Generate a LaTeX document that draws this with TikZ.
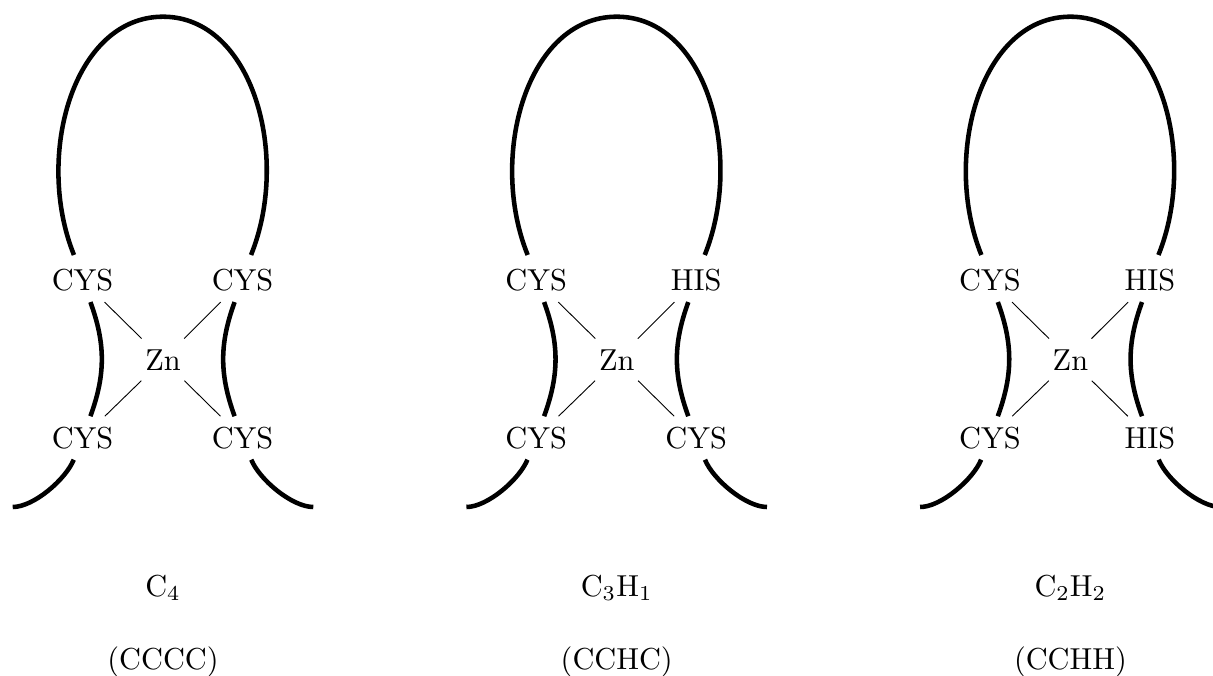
\documentclass[tikz,border=0pt]{standalone}
\begin{document}
\begin{tikzpicture}[x=0.0116cm,y=0.0116cm,
  res/.style={anchor=base, inner sep=0.3333em},
  chain/.style={line width=1.5pt},
  bond/.style={line width=0.3pt},
  lab/.style={anchor=base}]
\useasboundingbox (0,0) rectangle (1213,675);
\foreach \k/\tl/\tr/\bl/\br/\fa/\fb in {0/CYS/CYS/CYS/CYS/{C$_4$}/{(CCCC)},1/CYS/HIS/CYS/CYS/{C$_3$H$_1$}/{(CCHC)},2/CYS/HIS/CYS/HIS/{C$_2$H$_2$}/{(CCHH)}}{
\begin{scope}[shift={(\k*453.7,0)}]
  \node[res] (tl\k) at (82.5,384.3) {\tl};
  \node[res] (tr\k) at (242.5,384.3) {\tr};
  \node[res] (bl\k) at (82.5,226.7) {\bl};
  \node[res] (br\k) at (242.5,226.7) {\br};
  \node[res] (zn\k) at (163,305) {Zn};
  \node[lab] (fa\k) at (163,79) {\fa};
  \node[lab] (fb\k) at (163,5.5) {\fb};
  \coordinate (top\k) at (163,658.3);
  \coordinate (el\k) at (12.7,168);
  \coordinate (er\k) at (313.3,168);
  % bonds to zinc
  \draw[bond] (tl\k) -- (zn\k);
  \draw[bond] (tr\k) -- (zn\k);
  \draw[bond] (bl\k) -- (zn\k);
  \draw[bond] (br\k) -- (zn\k);
  % loop
  \draw[chain, shorten <=1.3pt, shorten >=1.3pt] (tl\k.108) .. controls +(112:110) and +(-90,0) .. (top\k)
        .. controls +(90,0) and +(68:110) .. (tr\k.72);
  % middle arcs
  \draw[chain] (tl\k) to[out=-70,in=70] (bl\k);
  \draw[chain] (tr\k) to[out=-110,in=110] (br\k);
  % tails
  \draw[chain] (bl\k) to[out=-112,in=0,looseness=0.7] (el\k);
  \draw[chain] (br\k) to[out=-68,in=180,looseness=0.7] (er\k);
\end{scope}
}
\end{tikzpicture}
\end{document}
